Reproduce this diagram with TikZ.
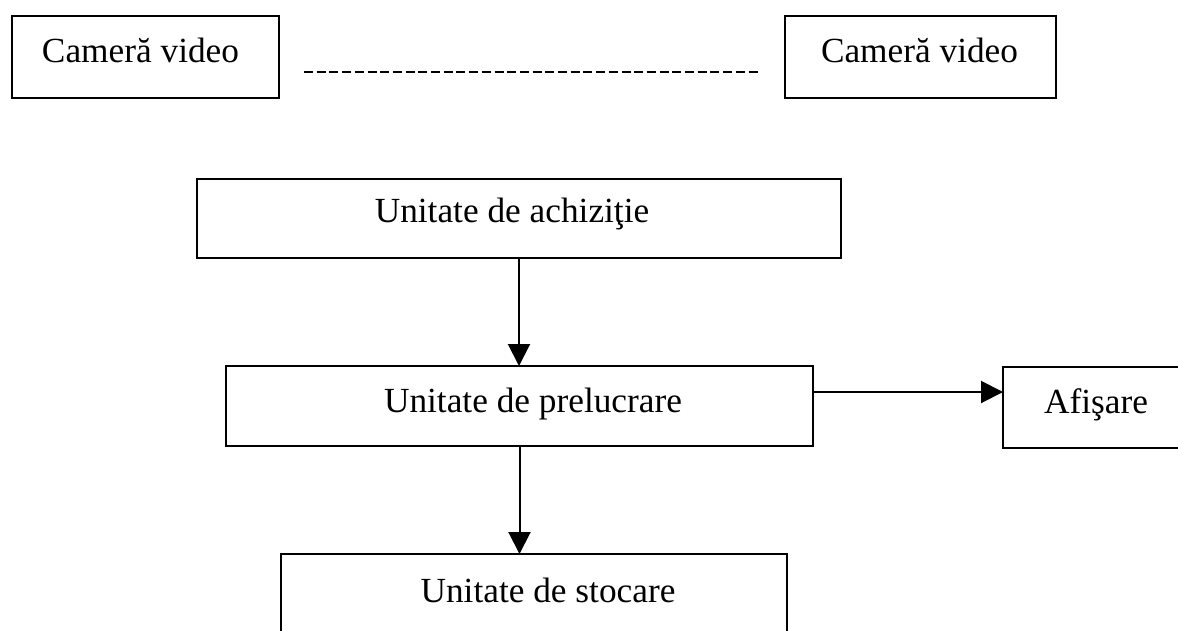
\documentclass[tikz,border=0pt]{standalone}
\usepackage{fontspec}
\setmainfont{Liberation Serif}
\usetikzlibrary{arrows.meta}

\tikzset{
  box/.style={draw, line width=2pt, rectangle, inner sep=0pt, outer sep=0pt},
  lbl/.style={anchor=base, inner sep=0pt, font=\fontsize{35.3}{40}\selectfont},
  arr/.style={line width=2pt, -{Triangle[length=22pt,width=22pt]}},
  link/.style={line width=2pt, dash pattern=on 9pt off 3.7pt}
}

\begin{document}
\begin{tikzpicture}[x=1pt, y=-1pt]
  \clip (0,0) rectangle (1178,630);
  \fill[white] (0,0) rectangle (1178,630);

  % frames
  \node[box, minimum width=267pt, minimum height=82pt] (cam1)  at (145.5,57)  {};
  \node[box, minimum width=271pt, minimum height=82pt] (cam2)  at (920.5,57)  {};
  \node[box, minimum width=644pt, minimum height=79pt] (acq)   at (519,218.5) {};
  \node[box, minimum width=587pt, minimum height=80pt] (proc)  at (519.5,406) {};
  \node[box, minimum width=186pt, minimum height=81pt] (afis)  at (1096,407.5) {};
  \node[box, minimum width=506pt, minimum height=86pt] (store) at (534,597)   {};

  % captions
  \node[lbl] (cam1t)  at (140.5,62) {Cameră video};
  \node[lbl] (cam2t)  at (919.5,62) {Cameră video};
  \node[lbl] (acqt)   at (512,222)  {Unitate de achiziţie};
  \node[lbl] (proct)  at (533,412)  {Unitate de prelucrare};
  \node[lbl] (afist)  at (1096,413) {Afişare};
  \node[lbl] (storet) at (548,602)  {Unitate de stocare};

  % dashed link between the two cameras
  \coordinate (d1) at (304,72);
  \coordinate (d2) at (760,72);
  \draw[link] (d1) -- (d2);

  % data flow
  \draw[arr] (acq.south) -- (acq.south |- proc.north);
  \draw[arr] ([yshift=14pt]proc.east) -- ([yshift=14pt]proc.east -| afis.west);
  \draw[arr] (proc.south) -- (proc.south |- store.north);
\end{tikzpicture}
\end{document}
